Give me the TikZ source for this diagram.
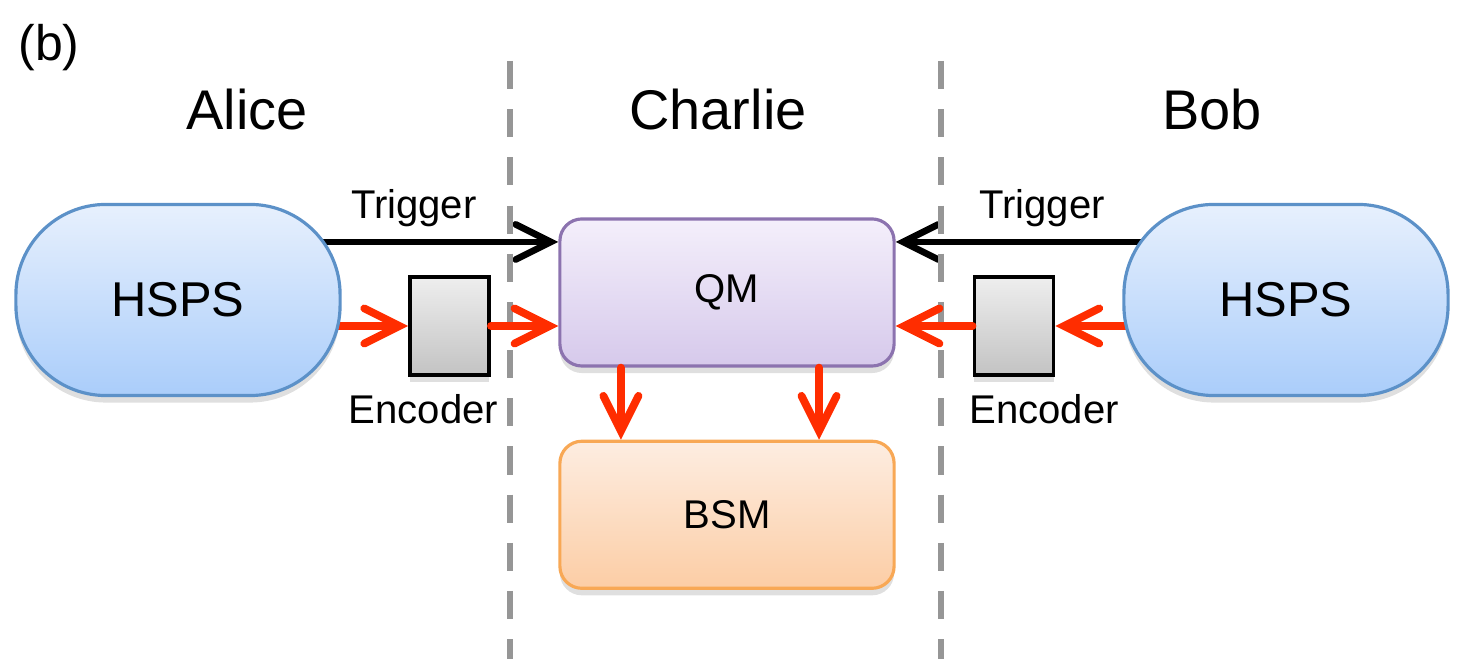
\documentclass[tikz,border=0pt]{standalone}
\usepackage{fontspec}
\setmainfont{Liberation Sans}
\usetikzlibrary{positioning,arrows.meta,shadows,backgrounds}

\definecolor{hspsTop}{RGB}{231,240,253}
\definecolor{hspsBot}{RGB}{170,205,250}
\definecolor{hspsLine}{RGB}{92,145,200}
\definecolor{qmTop}{RGB}{244,239,251}
\definecolor{qmBot}{RGB}{214,201,235}
\definecolor{qmLine}{RGB}{140,115,175}
\definecolor{bsmTop}{RGB}{253,237,225}
\definecolor{bsmBot}{RGB}{252,205,165}
\definecolor{bsmLine}{RGB}{248,168,85}
\definecolor{encTop}{RGB}{238,238,238}
\definecolor{encBot}{RGB}{195,195,195}
\definecolor{photonRed}{RGB}{255,45,0}
\definecolor{sepGray}{RGB}{150,150,150}

\begin{document}
\begin{tikzpicture}[
    x=0.01cm, y=-0.01cm,
    party/.style={font=\fontsize{15.9}{18}\selectfont},
    lbl/.style={font=\fontsize{11.4}{13}\selectfont},
    softshadow/.style={drop shadow={opacity=0.25, shadow xshift=0pt, shadow yshift=-2pt}},
    source/.style={draw=hspsLine, line width=0.9pt, top color=hspsTop, bottom color=hspsBot, rounded corners=0.9cm, minimum width=3.24cm, minimum height=1.91cm, font=\fontsize{13.9}{16}\selectfont, softshadow},
    station/.style={line width=0.9pt, rounded corners=0.22cm, minimum width=3.34cm, minimum height=1.47cm, font=\fontsize{11.4}{13}\selectfont, softshadow},
    qmbox/.style={station, draw=qmLine, top color=qmTop, bottom color=qmBot},
    bsmbox/.style={station, draw=bsmLine, top color=bsmTop, bottom color=bsmBot},
    encoder/.style={draw=black, line width=1.1pt, top color=encTop, bottom color=encBot, minimum width=0.79cm, minimum height=0.98cm, softshadow},
    trigger/.style={draw=black, line width=1.9pt, line cap=round, -{Straight Barb[length=10pt, width=10pt, line cap=round]}},
    photon/.style={draw=photonRed, line width=2.2pt, line cap=round, -{Straight Barb[length=10pt, width=10pt, line cap=round]}},
    border/.style={draw=sepGray, line width=1.7pt, dash pattern=on 8pt off 5.7pt}
]

\useasboundingbox (0,0) rectangle (1462,659);

% Separators
\draw[border] (510,61) -- (510,659);
\draw[border] (941,61) -- (941,659);

% Titles
\node (tag) at (49,48) {\fontsize{14.2}{16}\selectfont (b)};
\node[party] (alice) at (247,110) {Alice};
\node[party] (charlie) at (718,110) {Charlie};
\node[party] (bob) at (1212,110) {Bob};

% Charlie
\node[qmbox] (qm) at (727,292.5) {QM};
\node[bsmbox, below=0.72cm of qm] (bsm) {BSM};

% Alice and Bob
\node[source] (hspsA) at (178,300) {HSPS};
\node[source] (hspsB) at (1286,300) {HSPS};
\node[encoder] (encA) at (449.5,326) {};
\node[encoder] (encB) at (1014,326) {};
\node[lbl, below=0.05cm of encA, xshift=-0.26cm] (encAlbl) {Encoder};
\node[lbl, below=0.05cm of encB, xshift=0.30cm] (encBlbl) {Encoder};

\coordinate (trigA) at ([yshift=0.505cm]qm.west);
\coordinate (trigB) at ([yshift=0.505cm]qm.east);

% Arrows
\begin{scope}[on background layer]
\draw[trigger] (hspsA.center |- trigA) -- (trigA) node[lbl, above, pos=0.62] {Trigger};
\draw[trigger] (hspsB.center |- trigB) -- (trigB) node[lbl, above, pos=0.625] {Trigger};
\draw[photon] (hspsA.center |- encA.west) -- (encA.west);
\draw[photon] (hspsB.center |- encB.east) -- (encB.east);
\end{scope}
\draw[photon] (encA.east) -- (encA.east -| qm.west);
\draw[photon] (encB.west) -- (encB.west -| qm.east);
\draw[photon] ([xshift=-1.06cm]qm.south) -- ([xshift=-1.06cm]bsm.north);
\draw[photon] ([xshift=0.92cm]qm.south) -- ([xshift=0.92cm]bsm.north);

\end{tikzpicture}
\end{document}
